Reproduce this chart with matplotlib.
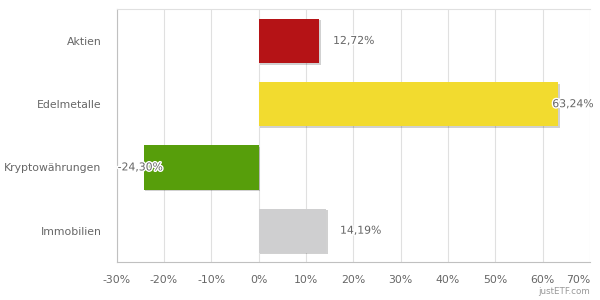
import matplotlib
matplotlib.use("Agg")
import matplotlib.pyplot as plt
import matplotlib.patheffects as pe
import numpy as np

categories = ["Aktien", "Edelmetalle", "Kryptowährungen", "Immobilien"]
values = [12.72, 63.24, -24.30, 14.19]
colors = ["#b51316", "#f2db2f", "#579e0b", "#cfcfd0"]
ticks = [-30, -20, -10, 0, 10, 20, 30, 40, 50, 60, 70]

txt = "#666666"
fs = 7.8
plt.rcParams["font.family"] = "DejaVu Sans"

fig = plt.figure(figsize=(6, 3), dpi=100)
ax = fig.add_axes([0.1945, 0.1257, 0.7888, 0.8433])

y = np.arange(len(categories))
shadow = [pe.SimplePatchShadow(offset=(1.2, -1.2), shadow_rgbFace="#000000", alpha=0.18), pe.Normal()]
bars = ax.barh(y, values, height=0.7, color=colors, zorder=3)
for b in bars:
    b.set_path_effects(shadow)

ax.set_xlim(-30, 70)
ax.set_ylim(3.5, -0.5)
ax.set_xticks(ticks)
ax.set_xticklabels([f"{t}%" for t in ticks])
ax.get_xticklabels()[-1].set_horizontalalignment("right")
ax.set_yticks(y)
ax.set_yticklabels(categories)
ax.tick_params(axis="both", length=0, colors=txt, labelsize=fs)
ax.tick_params(axis="x", pad=9)
ax.tick_params(axis="y", pad=11)
ax.grid(axis="x", color="#e0e0e0", linewidth=0.8, zorder=0)
ax.spines["right"].set_visible(False)
ax.spines["top"].set_color("#e0e0e0")
ax.spines["left"].set_color("#c0c0c0")
ax.spines["bottom"].set_color("#c0c0c0")

outline = [pe.withStroke(linewidth=2, foreground="white")]
for yi, v in zip(y, values):
    label = f"{v:.2f}%".replace(".", ",")
    if v > 60:
        x = v - 1.2
    elif v < 0:
        x = -29.8
    else:
        x = v + 3
    ax.text(x, yi, label, ha="left", va="center", fontsize=fs, color=txt,
            path_effects=outline, zorder=5)

fig.text(0.983, 0.027, "justETF.com", ha="right", va="center", fontsize=6.3, color="#999999")

fig.savefig("out.png", dpi=100)
